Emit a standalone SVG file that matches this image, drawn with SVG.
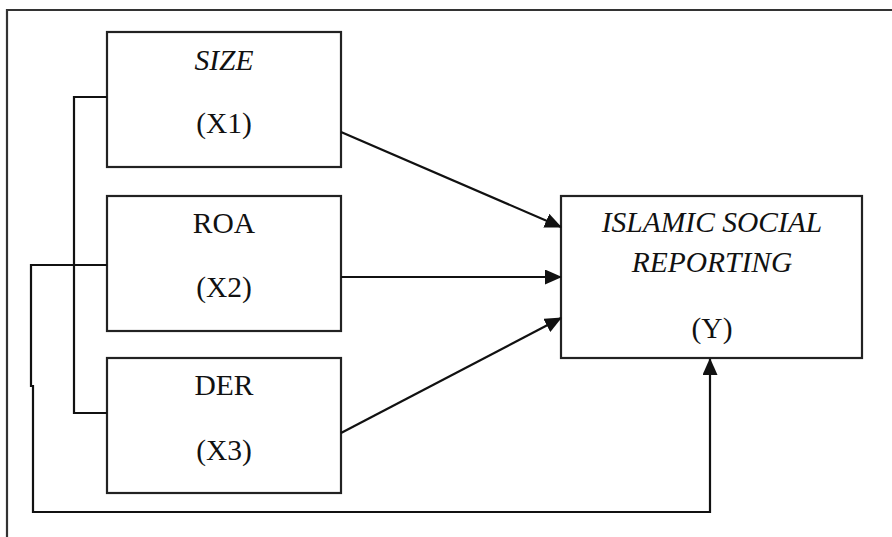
<svg xmlns="http://www.w3.org/2000/svg" width="892" height="537" viewBox="0 0 892 537">
<style>
.box{fill:#fff;stroke:#222;stroke-width:2.2}
.ln{fill:none;stroke:#111;stroke-width:2.2}
.t{font-family:"Liberation Serif","Times New Roman",serif;font-size:29.5px;fill:#111;text-anchor:middle}
.i{font-style:italic}
</style>
<defs>
<marker id="ah" markerUnits="userSpaceOnUse" markerWidth="17" markerHeight="15" refX="16" refY="7.5" orient="auto">
<path d="M0,0 L17,7.5 L0,15 Z" fill="#111"/>
</marker>
</defs>
<path d="M7,537 V10 H892" fill="none" stroke="#333" stroke-width="2.2"/>
<g id="size">
<rect class="box" x="107" y="32" width="234" height="135"/>
<text class="t i" x="224" y="70">SIZE</text>
<text class="t" x="224" y="133">(X1)</text>
</g>
<g id="roa">
<rect class="box" x="107" y="196" width="234" height="135"/>
<text class="t" x="224" y="233">ROA</text>
<text class="t" x="224" y="297">(X2)</text>
</g>
<g id="der">
<rect class="box" x="107" y="358" width="234" height="135"/>
<text class="t" x="224" y="395">DER</text>
<text class="t" x="224" y="460">(X3)</text>
</g>
<g id="isr">
<rect class="box" x="561" y="196" width="301" height="162"/>
<text class="t i" x="712" y="232">ISLAMIC SOCIAL</text>
<text class="t i" x="712" y="272">REPORTING</text>
<text class="t" x="712" y="338">(Y)</text>
</g>
<g id="connectors">
<path class="ln" d="M341,132 L561,227" marker-end="url(#ah)"/>
<path class="ln" d="M341,277 L561,277" marker-end="url(#ah)"/>
<path class="ln" d="M341,433 L561,318" marker-end="url(#ah)"/>
<path class="ln" d="M107,97 H74 V413 H107"/>
<path class="ln" d="M107,265 H31 V386 H33 V512 H710 V359" marker-end="url(#ah)"/>
</g>
</svg>
